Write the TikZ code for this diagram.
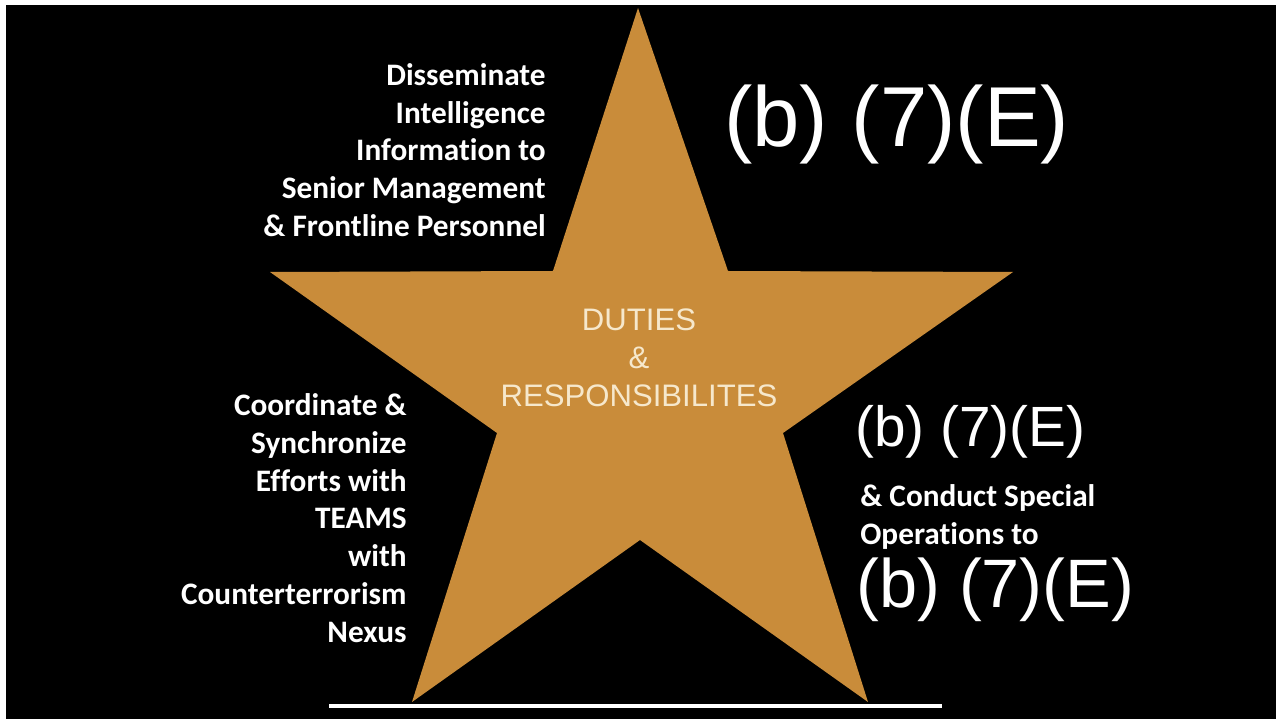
\documentclass[tikz,border=0pt]{standalone}
\usepackage{fontspec}
\setmainfont{Liberation Sans}
\newfontfamily\calibri[Ligatures=NoCommon]{Carlito}
\usepackage{xcolor}
\usepackage{tikz}
\usetikzlibrary{positioning}
\definecolor{stargold}{RGB}{201,140,58}
\definecolor{starcream}{RGB}{246,232,204}
\tikzset{
  duty/.style={text=white, font=\calibri\bfseries\fontsize{17.8}{21.5}\selectfont, inner sep=0pt},
  redacted/.style={text=white, inner sep=0pt, anchor=west},
  star face/.style={fill=stargold, draw=none},
  base rule/.style={draw=white, line width=0.08cm},
}
\begin{document}
\begin{tikzpicture}[x=0.02cm, y=-0.02cm]

  % Background
  \useasboundingbox (0,0) rectangle (1276,719);
  \fill[white] (0,0) rectangle (1276,719);
  \fill[black] (6,5) rectangle (1276,719);

  % Star points
  \coordinate (top) at (638,8);
  \coordinate (in_ur) at (728,271);
  \coordinate (arm_r) at (1013,272);
  \coordinate (in_r) at (783,433);
  \coordinate (foot_r) at (868,702);
  \coordinate (in_b) at (640,540);
  \coordinate (foot_l) at (412,702);
  \coordinate (in_l) at (497,433);
  \coordinate (arm_l) at (270,272);
  \coordinate (in_ul) at (553,271);

  \path[star face] (top) -- (in_ur) -- (arm_r) -- (in_r) -- (foot_r)
    -- (in_b) -- (foot_l) -- (in_l) -- (arm_l) -- (in_ul) -- cycle;

  % Define nodes
  \node[text=starcream, align=center, inner sep=0pt,
        font=\fontsize{17.7}{21.5}\selectfont] (duties) at (639,358)
        {DUTIES\\\&\\RESPONSIBILITES};

  \node[duty, align=right, anchor=east] (dissem) at (546,150)
        {Disseminate\\Intelligence\\Information to\\Senior Management\\\& Frontline Personnel};
  \node[duty, align=right, anchor=east] (coord) at (407,518)
        {Coordinate \&\\Synchronize\\Efforts with\\TEAMS\\with\\Counterterrorism\\Nexus};

  \node[redacted, font=\fontsize{48.4}{52}\selectfont] (b7e_1) at (724,124) {(b) (7)(E)};
  \node[redacted, font=\fontsize{32.3}{36}\selectfont] (b7e_2) at (855,432) {(b) (7)(E)};
  \node[duty, align=left, anchor=west] (conduct) at (860,517)
        {\& Conduct Special\\Operations to};
  \node[redacted, font=\fontsize{39}{42}\selectfont] (b7e_3) at (856,590) {(b) (7)(E)};

  % Base line
  \coordinate (line_l) at (329,706);
  \coordinate (line_r) at (942,706);
  \draw[base rule] (line_l) -- (line_r);

\end{tikzpicture}
\end{document}
